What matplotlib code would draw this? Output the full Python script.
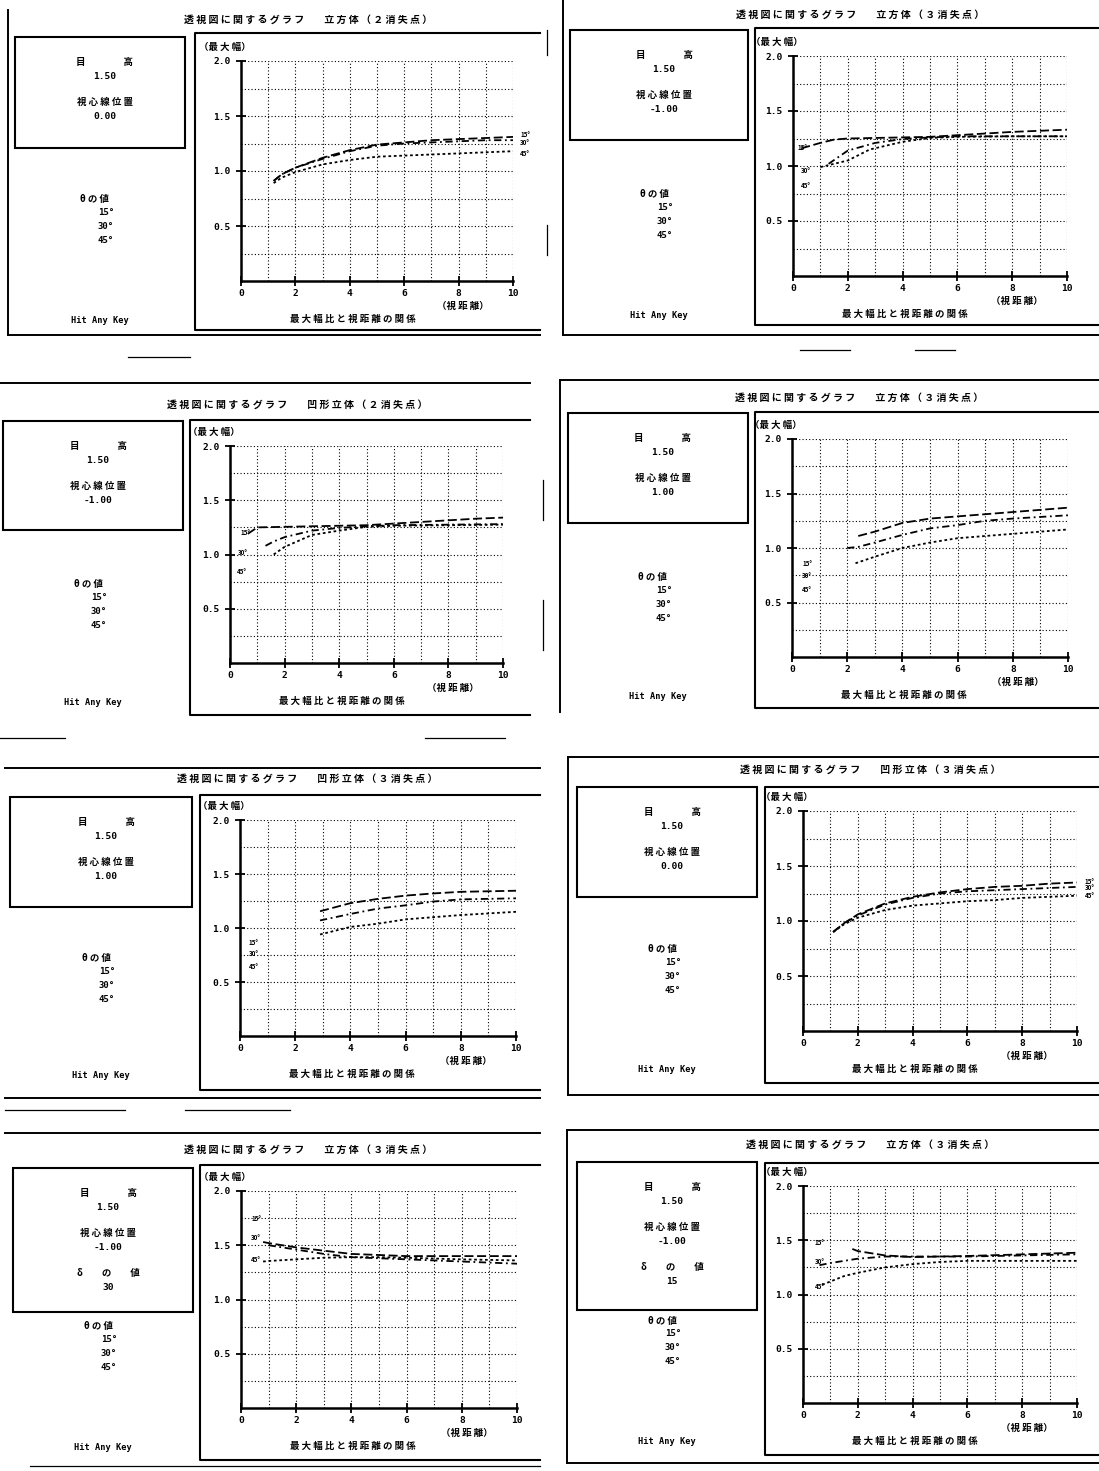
import matplotlib
matplotlib.use("Agg")
import matplotlib.pyplot as plt
from matplotlib.patches import Rectangle

plt.rcParams['font.family'] = ['Noto Sans CJK JP', 'DejaVu Sans']

W, H = 1099, 1471

# ---- data (x = 視距離, y = 最大幅) ----
theta_labels = ["15°", "30°", "45°"]
eye_height = "1.50"
center_pos = ["0.00", "-1.00", "-1.00", "1.00", "1.00", "0.00", "-1.00", "-1.00"]
delta_vals = [None, None, None, None, None, None, "30", "15"]
titles = ["立方体（２消失点）", "立方体（３消失点）", "凹形立体（２消失点）", "立方体（３消失点）",
          "凹形立体（３消失点）", "凹形立体（３消失点）", "立方体（３消失点）", "立方体（３消失点）"]

p1_x = [1.2, 1.5, 2, 3, 4, 5, 6, 7, 8, 9, 10]
p1_y15 = [0.91, 0.97, 1.03, 1.12, 1.19, 1.24, 1.26, 1.28, 1.29, 1.30, 1.31]
p1_y30 = [0.91, 0.97, 1.03, 1.11, 1.18, 1.23, 1.25, 1.26, 1.27, 1.28, 1.28]
p1_y45 = [0.89, 0.94, 0.99, 1.06, 1.10, 1.13, 1.14, 1.15, 1.16, 1.17, 1.18]

p2_x15 = [0.3, 1, 1.5, 2, 3, 4, 5, 6, 7, 8, 9, 10]
p2_y15 = [1.16, 1.21, 1.24, 1.25, 1.255, 1.26, 1.265, 1.28, 1.295, 1.31, 1.32, 1.33]
p2_x30 = [1.3, 2, 3, 4, 5, 6, 8, 10]
p2_y30 = [1.02, 1.14, 1.21, 1.245, 1.26, 1.27, 1.27, 1.27]
p2_x45 = [1.0, 2, 2.8, 4, 5, 6, 8, 10]
p2_y45 = [0.99, 1.05, 1.15, 1.22, 1.255, 1.265, 1.27, 1.27]

p3_x15 = [0.65, 1, 2, 3, 4, 5, 6, 7, 8, 9, 10]
p3_y15 = [1.19, 1.25, 1.255, 1.26, 1.265, 1.27, 1.285, 1.30, 1.315, 1.33, 1.34]
p3_x30 = [1.3, 1.6, 2, 3, 4, 5, 6, 8, 10]
p3_y30 = [1.08, 1.12, 1.16, 1.22, 1.245, 1.26, 1.27, 1.275, 1.28]
p3_x45 = [1.6, 2, 3, 4, 5, 6, 8, 10]
p3_y45 = [1.00, 1.07, 1.18, 1.22, 1.255, 1.265, 1.27, 1.275]

p4_x15 = [2.4, 3, 4, 5, 6, 7, 8, 9, 10]
p4_y15 = [1.11, 1.15, 1.23, 1.27, 1.29, 1.31, 1.33, 1.35, 1.37]
p4_x30 = [2.0, 2.4, 3, 4, 5, 6, 7, 8, 9, 10]
p4_y30 = [1.00, 1.01, 1.05, 1.12, 1.18, 1.21, 1.25, 1.27, 1.285, 1.30]
p4_x45 = [2.3, 3, 4, 5, 6, 7, 8, 9, 10]
p4_y45 = [0.86, 0.92, 1.00, 1.05, 1.09, 1.11, 1.13, 1.15, 1.17]

p5_x = [2.9, 4, 5, 6, 7, 8, 9, 10]
p5_y15 = [1.155, 1.23, 1.27, 1.30, 1.32, 1.335, 1.34, 1.345]
p5_y30 = [1.07, 1.13, 1.18, 1.21, 1.245, 1.265, 1.27, 1.275]
p5_y45 = [0.94, 1.01, 1.04, 1.08, 1.10, 1.12, 1.135, 1.15]

p6_x = [1.1, 1.5, 2, 3, 4, 5, 6, 7, 8, 9, 10]
p6_y15 = [0.90, 0.98, 1.06, 1.16, 1.22, 1.26, 1.29, 1.31, 1.32, 1.34, 1.35]
p6_y30 = [0.90, 0.98, 1.05, 1.15, 1.21, 1.25, 1.27, 1.28, 1.29, 1.30, 1.31]
p6_y45 = [0.90, 0.97, 1.03, 1.10, 1.14, 1.16, 1.18, 1.19, 1.21, 1.22, 1.23]

p7_x15 = [0.8, 1, 2, 3, 4, 5, 6, 8, 10]
p7_y15 = [1.53, 1.52, 1.48, 1.45, 1.42, 1.41, 1.40, 1.40, 1.40]
p7_x30 = [1, 2, 3, 4, 5, 6, 8, 10]
p7_y30 = [1.50, 1.46, 1.42, 1.39, 1.38, 1.37, 1.35, 1.33]
p7_x45 = [0.8, 1, 2, 3, 4, 5, 6, 8, 10]
p7_y45 = [1.35, 1.355, 1.37, 1.385, 1.39, 1.39, 1.385, 1.37, 1.36]

p8_x15 = [1.8, 2, 3, 4, 5, 6, 8, 10]
p8_y15 = [1.42, 1.40, 1.36, 1.345, 1.35, 1.355, 1.37, 1.385]
p8_x30 = [0.6, 1, 1.5, 2, 3, 4, 5, 6, 8, 10]
p8_y30 = [1.27, 1.29, 1.31, 1.33, 1.35, 1.35, 1.35, 1.35, 1.36, 1.37]
p8_x45 = [0.7, 1, 1.5, 2, 3, 4, 5, 6, 8, 10]
p8_y45 = [1.09, 1.12, 1.17, 1.20, 1.25, 1.28, 1.30, 1.31, 1.31, 1.31]

curves = [
    [(p1_x, p1_y15), (p1_x, p1_y30), (p1_x, p1_y45)],
    [(p2_x15, p2_y15), (p2_x30, p2_y30), (p2_x45, p2_y45)],
    [(p3_x15, p3_y15), (p3_x30, p3_y30), (p3_x45, p3_y45)],
    [(p4_x15, p4_y15), (p4_x30, p4_y30), (p4_x45, p4_y45)],
    [(p5_x, p5_y15), (p5_x, p5_y30), (p5_x, p5_y45)],
    [(p6_x, p6_y15), (p6_x, p6_y30), (p6_x, p6_y45)],
    [(p7_x15, p7_y15), (p7_x30, p7_y30), (p7_x45, p7_y45)],
    [(p8_x15, p8_y15), (p8_x30, p8_y30), (p8_x45, p8_y45)],
]

# ---- screen layout in pixels ----
layout = [
    dict(ax=(241, 61, 513, 281), box=(15, 37, 185, 148), pf=(195, 33, 540, 330),
         lines=[(8, 10, 8, 335), (8, 335, 540, 335)],
         tags=[(10.45, 1.33), (10.45, 1.26), (10.45, 1.16)]),
    dict(ax=(793, 56, 1067, 276), box=(570, 30, 748, 140), pf=(755, 28, 1099, 325),
         lines=[(563, 0, 563, 335), (563, 335, 1099, 335)],
         tags=[(0.35, 1.17), (0.45, 0.96), (0.45, 0.82)]),
    dict(ax=(230, 446, 503, 663), box=(3, 421, 183, 530), pf=(190, 420, 530, 715),
         lines=[(0, 383, 530, 383)],
         tags=[(0.55, 1.20), (0.45, 1.02), (0.45, 0.84)]),
    dict(ax=(792, 439, 1068, 657), box=(568, 413, 748, 523), pf=(755, 412, 1099, 708),
         lines=[(560, 380, 1099, 380), (560, 380, 560, 712)],
         tags=[(0.55, 0.86), (0.55, 0.75), (0.55, 0.62)]),
    dict(ax=(240, 820, 516, 1036), box=(10, 797, 192, 907), pf=(200, 795, 540, 1090),
         lines=[(5, 768, 540, 768), (5, 1098, 540, 1098)],
         tags=[(0.5, 0.87), (0.5, 0.76), (0.5, 0.64)]),
    dict(ax=(803, 811, 1077, 1031), box=(577, 787, 757, 897), pf=(765, 787, 1099, 1083),
         lines=[(568, 757, 1099, 757), (568, 757, 568, 1095), (568, 1095, 1099, 1095)],
         tags=[(10.45, 1.36), (10.45, 1.30), (10.45, 1.23)]),
    dict(ax=(241, 1191, 517, 1408), box=(13, 1168, 193, 1312), pf=(200, 1165, 540, 1460),
         lines=[(5, 1133, 540, 1133)],
         tags=[(0.55, 1.75), (0.55, 1.57), (0.55, 1.37)]),
    dict(ax=(803, 1186, 1077, 1403), box=(577, 1162, 757, 1310), pf=(765, 1163, 1099, 1455),
         lines=[(567, 1130, 1099, 1130), (567, 1130, 567, 1463), (567, 1463, 1099, 1463)],
         tags=[(0.6, 1.48), (0.6, 1.30), (0.6, 1.07)]),
]
# stray rule fragments of the scan
fragments = [(128, 357, 190, 357), (800, 350, 850, 350), (915, 350, 955, 350),
             (0, 738, 65, 738), (425, 738, 505, 738), (5, 1110, 125, 1110),
             (185, 1110, 290, 1110), (30, 1466, 540, 1466),
             (547, 30, 547, 55), (547, 225, 547, 255), (543, 480, 543, 520), (543, 600, 543, 650)]

styles = [(0, (5, 2)), (0, (4, 2, 1, 2)), (0, (1.5, 1.5))]


def sp(s):
    return " ".join(s)


fig = plt.figure(figsize=(W / 100, H / 100), dpi=100)
bg = fig.add_axes([0, 0, 1, 1])
bg.set_xlim(0, W)
bg.set_ylim(H, 0)
bg.axis('off')

txt = dict(color='k', fontweight='bold', ha='center', va='center')

for (x0, y0, x1, y1) in fragments:
    bg.plot([x0, x1], [y0, y1], color='k', lw=0.9)

for i, lay in enumerate(layout):
    L, T, R, B = lay['ax']
    bl, bt, br, bb = lay['box']
    pl, pt, pr, pb = lay['pf']
    bcx = (bl + br) / 2

    for (x0, y0, x1, y1) in lay['lines']:
        bg.plot([x0, x1], [y0, y1], color='k', lw=1.4)
    # plot frame (right side cut by the scan)
    bg.plot([pr, pl, pl, pr], [pt, pt, pb, pb], color='k', lw=1.5)
    bg.add_patch(Rectangle((bl, bt), br - bl, bb - bt, fill=False, ec='k', lw=1.5))

    bg.text(L + 67, T - 41, sp("透視図に関するグラフ") + "　　" + sp(titles[i]), fontsize=7.2, **txt)
    bg.text(bcx + 5, bt + 25, "目　　　　高", fontsize=6.8, **txt)
    bg.text(bcx + 5, bt + 39, eye_height, fontsize=6.8, family='DejaVu Sans Mono', **txt)
    bg.text(bcx + 5, bt + 65, sp("視心線位置"), fontsize=6.8, **txt)
    bg.text(bcx + 5, bt + 79, center_pos[i], fontsize=6.8, family='DejaVu Sans Mono', **txt)
    if delta_vals[i]:
        bg.text(bcx + 5, bt + 105, "δ　　の　　値", fontsize=6.8, **txt)
        bg.text(bcx + 5, bt + 119, delta_vals[i], fontsize=6.8, family='DejaVu Sans Mono', **txt)

    ty = T + (135 if delta_vals[i] else 138)
    bg.text(bcx - 5, ty, sp("θの値"), fontsize=6.8, **txt)
    for k, lab in enumerate(theta_labels):
        bg.text(bcx + 6, ty + 13 + 14 * k, lab, fontsize=6.5, family='DejaVu Sans Mono', **txt)
    bg.text(bcx, B + 39, "Hit Any Key", fontsize=6.2, family='DejaVu Sans Mono', **txt)

    bg.text(L - 16, T - 14, "（" + sp("最大幅") + "）", fontsize=6.8, **txt)
    bg.text(R - 50, B + 25, "（" + sp("視距離") + "）", fontsize=6.8, **txt)
    bg.text(L + 112, B + 38, sp("最大幅比と視距離の関係"), fontsize=6.8, **txt)

    ax = fig.add_axes([L / W, 1 - B / H, (R - L) / W, (B - T) / H])
    ax.patch.set_alpha(0)
    ax.set_xlim(0, 10)
    ax.set_ylim(0, 2.0)
    ax.set_xticks([0, 2, 4, 6, 8, 10])
    ax.set_xticks([1, 3, 5, 7, 9], minor=True)
    ax.set_yticks([0.5, 1.0, 1.5, 2.0])
    ax.set_yticks([0.25, 0.75, 1.25, 1.75], minor=True)
    ax.set_yticklabels(["0.5", "1.0", "1.5", "2.0"])
    ax.grid(True, which='both', ls=(0, (1, 2)), color='k', lw=0.8)
    ax.tick_params(which='major', direction='inout', length=7, width=1.3, labelsize=6.8)
    ax.tick_params(axis='x', which='major', pad=2)
    ax.tick_params(axis='y', which='major', pad=4)
    ax.tick_params(which='minor', length=0)
    for lab in ax.get_xticklabels() + ax.get_yticklabels():
        lab.set_family('DejaVu Sans Mono')
        lab.set_fontweight('bold')
    for s in ['top', 'right']:
        ax.spines[s].set_visible(False)
    for s in ['left', 'bottom']:
        ax.spines[s].set_linewidth(1.8)

    for k, (xs, ys) in enumerate(curves[i]):
        ax.plot(xs, ys, color='k', lw=1.3, ls=styles[k])
        tx, tyy = lay['tags'][k]
        ax.text(tx, tyy, theta_labels[k], fontsize=4.5, fontweight='bold',
                ha='center', va='center', clip_on=False)

fig.savefig("out.png", dpi=100)
